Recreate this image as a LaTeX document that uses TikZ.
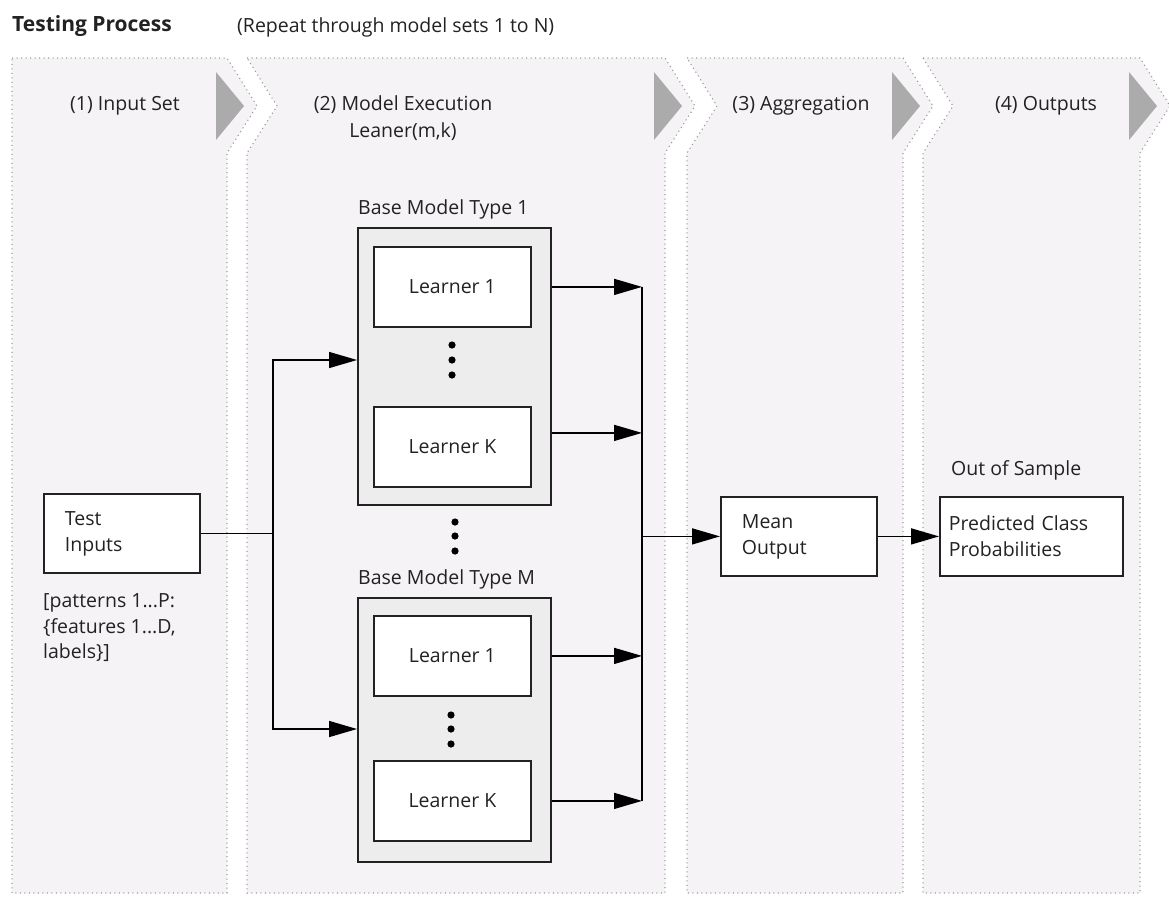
\documentclass[tikz,border=0pt]{standalone}
\usepackage{fontspec}
\setmainfont{Open Sans}
\usetikzlibrary{positioning,arrows.meta,calc}
\definecolor{panelfill}{HTML}{F6F3F6}
\definecolor{paneledge}{HTML}{9A9A9A}
\definecolor{chevgrey}{HTML}{ABABAB}
\definecolor{modelgrey}{HTML}{EDEDED}
\definecolor{inkdark}{HTML}{222222}

\begin{document}
\begin{tikzpicture}[
    x=1pt, y=-1pt,
    every node/.style={font=\fontsize{19.5}{26}\selectfont, text=inkdark},
    panel/.style={fill=panelfill, draw=paneledge, line width=1.1pt,
                  dash pattern=on 1.1pt off 3.4pt},
    chevron/.style={fill=chevgrey},
    block/.style={rectangle, draw=inkdark, line width=1.8pt, fill=white,
                  anchor=north west, minimum width=#1, align=left},
    learner/.style={block=157pt, minimum height=80pt, align=center},
    modelbox/.style={rectangle, draw=inkdark, line width=1.8pt, fill=modelgrey,
                     anchor=north west},
    wire/.style={draw=black, line width=1.5pt},
    arrow/.style={wire, -{Triangle[length=28pt, width=16pt]}},
]
\useasboundingbox (0,0) rectangle (1169,900);

% Stage panels
\draw[panel] (12,58) -- (227,58) -- (257,106) -- (227,153) -- (227,893) -- (12,893) -- cycle;
\foreach \xl/\xr in {247/665, 687/903, 923/1140}
  \draw[panel] (\xl,58) -- (\xr,58) -- (\xr+30,106) -- (\xr,153) -- (\xr,893)
               -- (\xl,893) -- (\xl,153) -- (\xl+30,106) -- cycle;
\foreach \xr in {227, 665, 903, 1140}
  \fill[chevron] (\xr-11,72) -- (\xr+17,106) -- (\xr-11,140) -- cycle;

% Titles
\node[anchor=west, inner sep=0, font=\fontsize{21}{26}\selectfont\bfseries] (title) at (12,26) {Testing Process};
\node[anchor=west, inner sep=0] (repeat) at (237,27) {(Repeat through model sets 1 to N)};

% Stage headers
\node (hdInput) at (125,106) {(1) Input Set};
\node[align=center, font=\fontsize{19.5}{27}\selectfont] (hdModel) at (403,118) {(2) Model Execution\\Leaner(m,k)};
\node (hdAgg) at (801,106) {(3) Aggregation};
\node (hdOut) at (1046,106) {(4) Outputs};

% Input set
\node[block=156pt, minimum height=79pt, text width=114pt, inner xsep=21pt] (inputs) at (43,493) {Test\\Inputs};
\node[below right=20pt and 0pt of inputs.south west, align=left, inner sep=0,
      font=\fontsize{19.5}{25.5}\selectfont] (patterns) {[patterns 1...P:\\\{features 1...D,\\labels\}]};

% Base model type 1
\node[modelbox, minimum width=193pt, minimum height=277pt] (bmOne) at (357,227) {};
\node[anchor=base west, inner sep=0] (bmOneLbl) at ($(bmOne.north west)+(1,-13)$) {Base Model Type 1};
\node[learner] (lrOneA) at (373,246) {Learner 1};
\node[learner] (lrOneK) at (373,406) {Learner K};
\coordinate (dotsOne) at (452,360);
\coordinate (outOneK) at ($(lrOneK.center)+(0,-14)$);
\foreach \y in {345,360,375} \fill (452,\y) circle (3.6pt);

% between model types
\foreach \y in {522,536,551} \fill (455,\y) circle (3.6pt);

% Base model type M
\node[modelbox, minimum width=193pt, minimum height=264pt] (bmM) at (357,597) {};
\node[anchor=base west, inner sep=0] (bmMLbl) at ($(bmM.north west)+(1,-13)$) {Base Model Type M};
\node[learner] (lrMA) at (373,615) {Learner 1};
\node[learner] (lrMK) at (373,760) {Learner K};
\coordinate (dotsM) at (451,729);
\foreach \y in {715,729,744} \fill (451,\y) circle (3.6pt);

% Aggregation and outputs
\node[block=156pt, minimum height=79pt, text width=114pt, inner xsep=21pt] (mean) at (720,496) {Mean\\Output};
\node[block=183pt, minimum height=79pt, text width=165pt, inner xsep=9pt] (pred) at (939,496) {Predicted Class\\Probabilities};
\node[anchor=base west, inner sep=0] (oos) at ($(pred.north west)+(12,-21)$) {Out of Sample};

% Connectors
\coordinate (split) at (273,0);
\coordinate (bus) at (642,0);
\draw[wire] (inputs.east) -- (inputs.east -| split);
\draw[arrow] (inputs.east -| split) |- (bmOne.west |- dotsOne);
\draw[arrow] (inputs.east -| split) |- (bmM.west |- dotsM);

\draw[arrow] (bmOne.east |- lrOneA.center) -- (bus |- lrOneA.center);
\draw[arrow] (bmOne.east |- outOneK) -- (bus |- outOneK);
\draw[arrow] (bmM.east |- lrMA.center) -- (bus |- lrMA.center);
\draw[arrow] (bmM.east |- lrMK.center) -- (bus |- lrMK.center);
\draw[wire] (bus |- lrOneA.center) -- (bus |- lrMK.center);

\draw[arrow] (bus |- mean.west) -- (mean.west);
\draw[arrow] (mean) -- (pred);

\end{tikzpicture}
\end{document}
